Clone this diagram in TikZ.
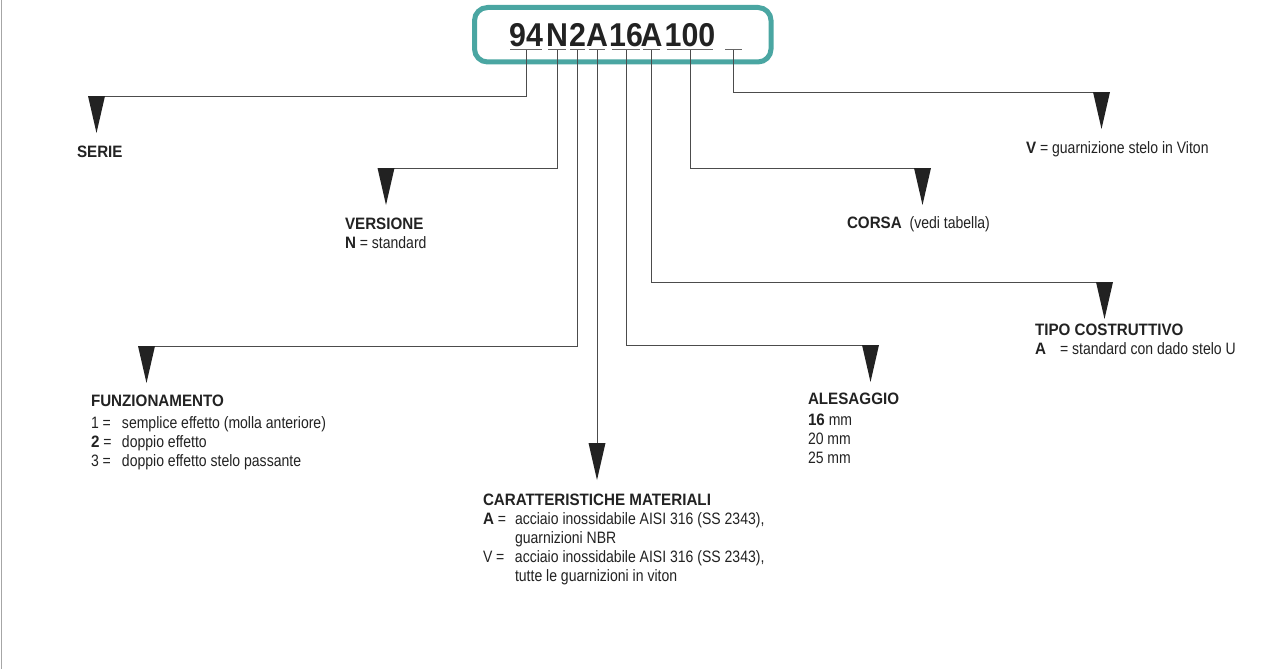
\documentclass[tikz,border=0pt]{standalone}
\usepackage{fontspec}
\setmainfont{Liberation Sans}[FakeStretch=0.85, BoldFeatures={FakeStretch=0.92}]
\usepackage{array}
\definecolor{boxteal}{HTML}{4AA6A2}
\definecolor{inkgray}{HTML}{222222}
\newcolumntype{K}{p{31pt}}
\newcommand{\dropmark}[1]{\fill[inkgray] (#1) ++(-8.5,0) -- ++(17,0) -- ++(-8.5,37) -- cycle;}

\begin{document}
\begin{tikzpicture}[
    x=1pt, y=-1pt,
    every node/.style={inner sep=0pt, outer sep=0pt, text=inkgray},
    txt/.style={anchor=base west, font=\fontsize{16.5}{19}\selectfont},
    code/.style={anchor=base, font=\fontsize{33}{33}\selectfont\bfseries},
    uline/.style={draw=black!60, line width=1pt},
    lead/.style={draw=black!70, line width=1pt},
]
\useasboundingbox (0,0) rectangle (1271,669);
\draw[gray!70, line width=1.5pt] (1.5,0) -- (1.5,669);

% code box
\draw[boxteal, line width=5pt, rounded corners=13pt] (474.5,7.5) rectangle (771,62);
\foreach \nm/\a/\b/\t in {s94/510/542/94, sN/548/566/N, s2/570/585/2, sA/589/605/A,
    s16/612/640/16, sT/643/660/A, s100/667/713/100, sV/725/742/{}} {
  \draw[uline] (\a,50) -- (\b,50);
  \coordinate (\nm) at ({(\a+\b)/2},50);
  \node[code] at ({(\a+\b)/2},46.5) {\t};
}

% pointer tops
\coordinate (pSerie) at (88,96);
\coordinate (pVers) at (378,168);
\coordinate (pFunz) at (138,346);
\coordinate (pMat) at (596,443);
\coordinate (pAles) at (879,345);
\coordinate (pTipo) at (1113,282);
\coordinate (pCorsa) at (931,168);
\coordinate (pViton) at (1110,92);

\draw[lead] (s94) |- (pSerie);
\draw[lead] (sN) |- (pVers);
\draw[lead] (s2) |- (pFunz);
\draw[lead] (sA) -- (sA |- pMat);
\draw[lead] (s16) |- (pAles);
\draw[lead] (sT) |- (pTipo);
\draw[lead] (s100) |- (pCorsa);
\draw[lead] (sV) |- (pViton);

\dropmark{96.5,96}
\dropmark{386,168}
\dropmark{146.5,346}
\dropmark{597,443}
\dropmark{870.5,345}
\dropmark{1104.5,282}
\dropmark{922.5,168}
\dropmark{1101.5,92}

% labels
\node[txt] (serie) at (77,157) {\textbf{SERIE}};
\node[txt] (versione) at (345,229) {\begin{tabular}[t]{@{}l@{}}
  \textbf{VERSIONE}\\ \textbf{N} = standard\end{tabular}};
\node[txt] (funz) at (91,406) {\begin{tabular}[t]{@{}K@{}l@{}}
  \multicolumn{2}{@{}l@{}}{\textbf{FUNZIONAMENTO}}\\[3pt]
  1 = & semplice effetto (molla anteriore)\\
  \textbf{2} = & doppio effetto\\
  3 = & doppio effetto stelo passante\end{tabular}};
\node[txt] (mat) at (483,505) {\begin{tabular}[t]{@{}p{32pt}@{}l@{}}
  \multicolumn{2}{@{}l@{}}{\textbf{CARATTERISTICHE MATERIALI}}\\
  \textbf{A} = & acciaio inossidabile AISI 316 (SS 2343),\\
  & guarnizioni NBR\\
  V = & acciaio inossidabile AISI 316 (SS 2343),\\
  & tutte le guarnizioni in viton\end{tabular}};
\node[txt] (ales) at (808,404) {\begin{tabular}[t]{@{}l@{}}
  \textbf{ALESAGGIO}\\[2pt] \textbf{16} mm\\ 20 mm\\ 25 mm\end{tabular}};
\node[txt] (tipo) at (1035,335) {\begin{tabular}[t]{@{}p{25pt}@{}l@{}}
  \multicolumn{2}{@{}l@{}}{\textbf{TIPO COSTRUTTIVO}}\\
  \textbf{A} & = standard con dado stelo U\end{tabular}};
\node[txt] (corsa) at (847,228) {\textbf{CORSA}\ \ (vedi tabella)};
\node[txt] (viton) at (1026,153) {\textbf{V} = guarnizione stelo in Viton};
\end{tikzpicture}
\end{document}
